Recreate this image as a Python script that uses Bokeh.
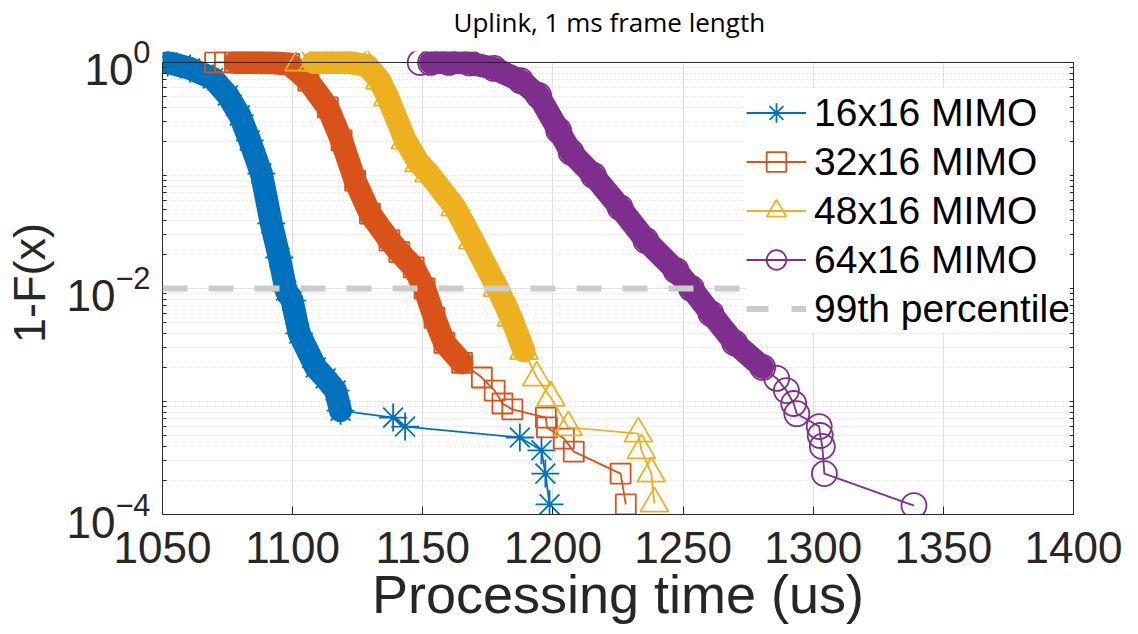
from bokeh.plotting import figure
from bokeh.models import (FixedTicker, LogAxis, Span, Legend, LegendItem, Range1d, Title)
from bokeh.embed import file_html
from bokeh.resources import INLINE

# ---------------- data ----------------
title_text = "Uplink, 1 ms frame length"
x_label = "Processing time (us)"
y_label = "1-F(x)"
series_names = ["16x16 MIMO", "32x16 MIMO", "48x16 MIMO", "64x16 MIMO"]
percentile_label = "99th percentile"
percentile_level = 0.01

x_ticks = [1050, 1100, 1150, 1200, 1250, 1300, 1350, 1400]
y_ticks = [1e-4, 1e-2, 1.0]

t16 = [1052.0, 1060.6, 1069.4, 1075.1, 1079.7, 1083.5, 1088.0, 1091.8, 1094.9, 1097.5,
       1099.8, 1102.5, 1108.9, 1112.7, 1116.5, 1118.4, 1138.6, 1143.2, 1187.3, 1195.6,
       1197.1, 1198.7]
p16 = [1.0, 0.885, 0.72, 0.51, 0.34, 0.204, 0.104, 0.0376, 0.0188, 0.0096,
       0.0078, 0.0040, 0.0020, 0.0016, 0.00125, 0.00083, 0.00072, 0.00060, 0.00048, 0.00037,
       0.00023, 0.000123]

t32 = [1070.2, 1074.0, 1078.0, 1085.0, 1092.0, 1098.7, 1106.0, 1113.5, 1118.8, 1124.0,
       1129.7, 1137.2, 1141.0, 1146.5, 1150.7, 1154.5, 1158.3, 1165.1, 1172.7, 1177.6,
       1180.6, 1184.4, 1197.3, 1197.7, 1204.2, 1208.0, 1226.0, 1228.0]
p32 = [1.0, 1.0, 1.0, 1.0, 0.995, 0.97, 0.69, 0.40, 0.204, 0.090,
       0.046, 0.0266, 0.021, 0.0154, 0.0100, 0.0055, 0.0033, 0.0022, 0.00163, 0.00125,
       0.00096, 0.00085, 0.00072, 0.00059, 0.00047, 0.00036, 0.00023, 0.000123]

t48 = [1102.5, 1108.0, 1114.0, 1121.0, 1128.6, 1133.5, 1136.6, 1143.3, 1148.5, 1152.3,
       1162.4, 1169.2, 1178.7, 1184.0, 1188.9, 1193.8, 1199.2, 1205.9, 1232.8, 1234.0,
       1237.8, 1239.0]
p48 = [1.0, 1.0, 1.0, 1.0, 0.94, 0.69, 0.49, 0.204, 0.128, 0.104,
       0.052, 0.0266, 0.0101, 0.0055, 0.0028, 0.00163, 0.00108, 0.00059, 0.00052, 0.00037,
       0.00023, 0.000125]

t64 = [1149.0, 1153.0, 1160.0, 1168.0, 1177.4, 1187.6, 1194.5, 1202.2, 1207.0, 1215.6,
       1225.8, 1235.7, 1247.3, 1253.2, 1260.7, 1269.8, 1280.6, 1286.0, 1289.7, 1292.5,
       1293.7, 1302.3, 1302.7, 1303.5, 1304.3, 1338.7]
p64 = [1.0, 1.0, 1.0, 0.99, 0.885, 0.69, 0.51, 0.25, 0.16, 0.10,
       0.052, 0.0266, 0.0144, 0.0100, 0.0060, 0.0033, 0.0020, 0.0016, 0.00125, 0.00096,
       0.00078, 0.00060, 0.00050, 0.00040, 0.00023, 0.00012]

# ---------------- styles ----------------
colors = ["#0072BD", "#D95319", "#EDB120", "#7E2F8E"]
markers = ["asterisk", "square", "triangle", "circle"]
marker_sizes = [28, 20, 28, 25]
dense_spans = [(0, 16), (2, 18), (1, 15), (1, 17)]   # index slices drawn as a solid band
AX = "#262626"
FONT = "Liberation Sans"

p = figure(width=1122, height=634, y_axis_type="log",
           x_range=Range1d(1050, 1400), y_range=Range1d(1e-4, 1.25),
           output_backend="svg", toolbar_location=None,
           min_border_left=162, min_border_right=49, min_border_top=51, min_border_bottom=120)
p.outline_line_color = None
p.background_fill_color = "white"

p.title.text = title_text
p.title.text_font = "Open Sans"
p.title.text_font_size = "26px"
p.title.text_font_style = "normal"
p.title.text_color = "black"
p.title.align = "left"
p.title.offset = 291
p.title.vertical_align = "top"
p.title.standoff = 4
# small spacer between the title and the plot frame
p.add_layout(Title(text=" ", text_font_size="6px", standoff=0), "above")

# axes
xt = FixedTicker(ticks=x_ticks, minor_ticks=[])
minor_y = [k * 10.0 ** d for d in range(-4, 0) for k in range(1, 10)
           if not (k == 1 and d in (-4, -2))]
yt = FixedTicker(ticks=y_ticks, minor_ticks=minor_y)

xa = p.xaxis[0]
xa.ticker = xt
xa.axis_label = x_label
ya = p.yaxis[0]
ya.ticker = yt
ya.axis_label = y_label
ya.bounds = (1e-4, 1.0)

for ax in (xa, ya):
    ax.axis_line_color = AX
    ax.axis_line_width = 1
    ax.major_tick_in = 8
    ax.major_tick_out = 0
    ax.minor_tick_in = 4
    ax.minor_tick_out = 0
    ax.major_tick_line_color = AX
    ax.minor_tick_line_color = AX
    ax.major_label_text_font = FONT
    ax.major_label_text_font_size = "44px"
    ax.major_label_text_color = AX
    ax.axis_label_text_font = FONT
    ax.axis_label_text_font_style = "normal"
    ax.axis_label_text_color = AX
xa.minor_tick_in = 0
xa.major_label_standoff = 17
xa.major_label_text_line_height = 1.0
xa.axis_label_standoff = -2
xa.axis_label_text_line_height = 1.0
xa.axis_label_text_font_size = "54px"
ya.major_label_standoff = 12
ya.axis_label_standoff = 8
ya.axis_label_text_font_size = "45px"

ra = LogAxis(ticker=yt, bounds=(1e-4, 1.0), major_label_text_font_size="1px",
             major_label_text_alpha=0.0,
             major_label_standoff=0, major_tick_in=8, major_tick_out=0,
             minor_tick_in=4, minor_tick_out=0, axis_line_color=AX,
             major_tick_line_color=AX, minor_tick_line_color=AX)
p.add_layout(ra, "right")

# grids
p.xgrid.ticker = xt
p.xgrid.grid_line_color = "#e1e1e1"
p.xgrid.cross_bounds = (1e-4, 1.0)
p.ygrid.ticker = yt
p.ygrid.grid_line_color = "#e1e1e1"
p.ygrid.minor_grid_line_color = "#cdcdcd"
p.ygrid.minor_grid_line_dash = "1 3"

# data
series = [(t16, p16), (t32, p32), (t48, p48), (t64, p64)]
items = []
for (tx, py), name, c, m, ms, (a, b) in zip(series, series_names, colors, markers,
                                              marker_sizes, dense_spans):
    p.line(tx[a:b], py[a:b], line_color=c, line_width=23, line_cap="round", line_join="round")
    lr = p.line(tx, py, line_color=c, line_width=1.8)
    sr = p.scatter(tx, py, marker=m, size=ms, line_color=c, line_width=1.8, fill_color=None)
    items.append(LegendItem(label=name, renderers=[lr, sr]))

# legend-only renderer for the percentile line (zero-length, so nothing is drawn in the plot)
pct_r = p.line(x=[x_ticks[0], x_ticks[0]], y=[percentile_level, percentile_level],
               line_color="#cccccc", line_width=6, line_dash="22 23")
items.append(LegendItem(label=percentile_label, renderers=[pct_r]))

legend = Legend(items=items, location=(584, 181), border_line_color=None,
                background_fill_color="white", background_fill_alpha=1.0,
                label_text_font=FONT, label_text_font_size="39px", label_text_color="black",
                glyph_width=60, glyph_height=49, label_height=49, label_standoff=8,
                spacing=0, padding=4, margin=0)
p.add_layout(legend, "center")

p.add_layout(Span(location=1.0, dimension="width", line_color=AX, line_width=1))
p.add_layout(Span(location=percentile_level, dimension="width", line_color="#cccccc",
                  line_width=6, line_dash="25 21", level="overlay"))

open("out.html", "w").write(file_html(p, INLINE))
